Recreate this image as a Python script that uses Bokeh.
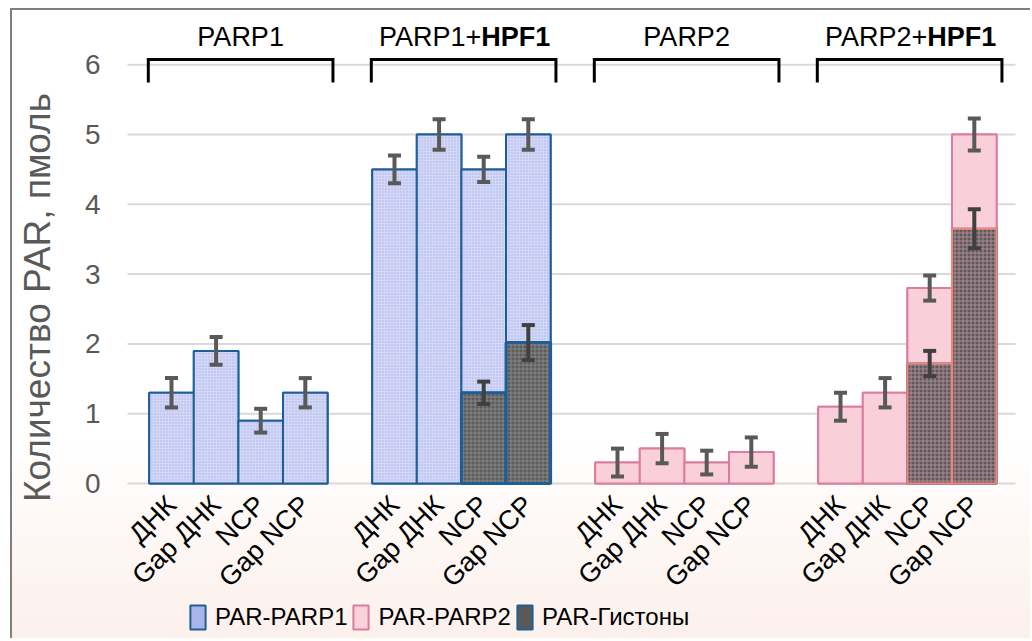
import math
from bokeh.plotting import figure
from bokeh.models import (ColumnDataSource, Whisker, TeeHead, Legend, LegendItem, Range1d)
from bokeh.core.properties import value
from bokeh.embed import file_html
from bokeh.resources import INLINE

# ---------------- data ----------------
groups = ["PARP1", "PARP1+HPF1", "PARP2", "PARP2+HPF1"]
categories = ["ДНК", "Gap ДНК", "NCP", "Gap NCP"]

parp1_values = [1.3, 1.9, 0.9, 1.3, 4.5, 5.0, 4.5, 5.0]
parp1_errors = [0.21, 0.2, 0.17, 0.21, 0.2, 0.22, 0.18, 0.22]

parp2_values = [0.3, 0.5, 0.3, 0.45, 1.1, 1.3, 2.8, 5.0]
parp2_errors = [0.2, 0.21, 0.17, 0.21, 0.2, 0.21, 0.18, 0.23]

hist_groups = ["PARP1+HPF1", "PARP1+HPF1", "PARP2+HPF1", "PARP2+HPF1"]
hist_categories = ["NCP", "Gap NCP", "NCP", "Gap NCP"]
hist_values = [1.3, 2.02, 1.72, 3.65]
hist_errors = [0.16, 0.25, 0.18, 0.28]

y_ticks = [0, 1, 2, 3, 4, 5, 6]
y_title = "Количество PAR, пмоль"
legend_labels = ["PAR-PARP1", "PAR-PARP2", "PAR-Гистоны"]

# ---------------- layout (pixel geometry of the page) ----------------
STEP = len(categories) + 1
FONT = "Liberation Sans"
W, H = 1020, 630          # canvas size
CX0, CY0 = 12, 10         # canvas top-left on the page
BAR0_PX, XPX = 171, 44.6  # page x of the first bar centre, px per unit
ZERO_PY, YPX = 483, 69.8  # page y of value 0, px per unit


def px2x(px):
    return (px - BAR0_PX) / XPX


def py2y(py):
    return (ZERO_PY - py) / YPX


def xpos(g, c):
    return groups.index(g) * STEP + categories.index(c)


p = figure(width=W, height=H,
           x_range=Range1d(px2x(CX0), px2x(CX0 + W)),
           y_range=Range1d(py2y(CY0 + H), py2y(CY0)),
           output_backend="svg", toolbar_location=None,
           x_axis_location=None, y_axis_location=None,
           min_border=0, min_border_left=0, min_border_right=0,
           min_border_top=0, min_border_bottom=0)
p.styles = {"border-top": "2px solid #7F7F7F", "border-left": "2px solid #7F7F7F",
            "margin-left": "10px", "margin-top": "8px",
            "background": "linear-gradient(180deg, #FFFFFF 0%, #FFFFFF 68%, #FCF0EB 100%)"}
p.border_fill_color = None
p.background_fill_color = None
p.outline_line_color = None
p.xgrid.visible = False
p.ygrid.visible = False

# ---------------- grid lines ----------------
gx0, gx1 = px2x(127), px2x(1015)
p.segment(x0=[gx0] * len(y_ticks), x1=[gx1] * len(y_ticks), y0=y_ticks, y1=y_ticks,
          line_color="#D9D9D9", line_width=2)

# ---------------- bars ----------------
p1_x = [xpos(g, c) for g in groups[:2] for c in categories]
p2_x = [xpos(g, c) for g in groups[2:] for c in categories]
h_x = [xpos(g, c) for g, c in zip(hist_groups, hist_categories)]

src1 = ColumnDataSource(dict(x=p1_x, top=parp1_values,
                             upper=[v + e for v, e in zip(parp1_values, parp1_errors)],
                             lower=[v - e for v, e in zip(parp1_values, parp1_errors)]))
src2 = ColumnDataSource(dict(x=p2_x, top=parp2_values,
                             upper=[v + e for v, e in zip(parp2_values, parp2_errors)],
                             lower=[v - e for v, e in zip(parp2_values, parp2_errors)]))
h_line = ["#1D5E98" if g.startswith("PARP1") else "#F2857A" for g in hist_groups]
h_hatch = ["#8E8E8E" if g.startswith("PARP1") else "#C2909C" for g in hist_groups]
h_lw = [3 if g.startswith("PARP1") else 2 for g in hist_groups]
srch = ColumnDataSource(dict(x=h_x, top=hist_values, lc=h_line, hc=h_hatch, lw=h_lw,
                             upper=[v + e for v, e in zip(hist_values, hist_errors)],
                             lower=[v - e for v, e in zip(hist_values, hist_errors)]))

# solid-coloured bars (used for the legend keys), fully covered by the textured bars
lr1 = p.vbar(x="x", top="top", width=1.0, source=src1, fill_color="#AAB4EC",
             line_color="#1F5F95", line_width=2)
lr2 = p.vbar(x="x", top="top", width=1.0, source=src2, fill_color="#FAD2DB",
             line_color="#DD7C9E", line_width=2)

p.vbar(x="x", top="top", width=1.0, source=src1, fill_color="#D2D7F7",
       line_color="#1D5E98", line_width=2,
       hatch_pattern="dot", hatch_color="#9AA4E2", hatch_scale=3, hatch_weight=1, hatch_alpha=0.7)
p.vbar(x="x", top="top", width=1.0, source=src2, fill_color="#F9D0DA",
       line_color="#DE7BA0", line_width=2)

lr3 = p.vbar(x="x", top="top", width=1.0, source=srch, fill_color="#595959",
             line_color="#1F5F95", line_width=2)
p.vbar(x="x", top="top", width=1.0, source=srch, fill_color="#5C5C5C",
       line_color="lc", line_width="lw",
       hatch_pattern="cross", hatch_color="hc", hatch_scale=4, hatch_weight=1, hatch_alpha=0.8)

for src, col in ((src1, "#595959"), (src2, "#595959"), (srch, "#404040")):
    p.add_layout(Whisker(source=src, base="x", upper="upper", lower="lower", level="annotation",
                         line_color=col, line_width=4,
                         upper_head=TeeHead(size=13, line_color=col, line_width=4),
                         lower_head=TeeHead(size=13, line_color=col, line_width=4)))

# ---------------- brackets and group titles ----------------
br_x, br_y = [], []
for g in groups:
    base = groups.index(g) * STEP
    left, right = base - 0.52, base + 3.62
    br_x.append([left, left, right, right])
    br_y.append([py2y(82), py2y(59), py2y(59), py2y(82)])
p.multi_line(xs=br_x, ys=br_y, line_color="black", line_width=3, line_join="miter")

CW = {"P": .667, "A": .667, "R": .722, "1": .556, "2": .556, "+": .584}
CWB = {"H": .722, "P": .667, "F": .611, "1": .556}
FS = 27
ty = py2y(36)
for g in groups:
    cx = groups.index(g) * STEP + 1.55
    if "+" in g:
        a, b = g.split("+")
        a = a + "+"
        wa = sum(CW[ch] for ch in a) * FS
        wb = sum(CWB[ch] for ch in b) * FS
        split = cx + (-(wa + wb) / 2 + wa) / XPX
        p.text(x=[split], y=[ty], text=[a], text_font=value(FONT), text_font_size=f"{FS}px",
               text_align="right", text_baseline="middle", text_color="black")
        p.text(x=[split], y=[ty], text=[b], text_font=value(FONT), text_font_size=f"{FS}px",
               text_font_style="bold", text_align="left", text_baseline="middle", text_color="black")
    else:
        p.text(x=[cx], y=[ty], text=[g], text_font=value(FONT), text_font_size=f"{FS}px",
               text_align="center", text_baseline="middle", text_color="black")

# ---------------- tick labels and axis title ----------------
p.text(x=[px2x(100)] * len(y_ticks), y=y_ticks, text=[str(t) for t in y_ticks],
       text_font=value(FONT), text_font_size="28px", text_color="#595959",
       text_align="right", text_baseline="middle")

all_x = p1_x + p2_x
all_lab = [c for g in groups for c in categories]
p.text(x=all_x, y=[py2y(500)] * len(all_x), text=all_lab, angle=math.pi / 4,
       text_font=value(FONT), text_font_size="27px", text_color="black",
       text_align="right", text_baseline="middle")

p.text(x=[px2x(37)], y=[py2y(297)], text=[y_title], angle=math.pi / 2,
       text_font=value(FONT), text_font_size="37px", text_color="#595959",
       text_align="center", text_baseline="middle")

# ---------------- legend ----------------
legend = Legend(items=[LegendItem(label=legend_labels[0], renderers=[lr1]),
                       LegendItem(label=legend_labels[1], renderers=[lr2]),
                       LegendItem(label=legend_labels[2], renderers=[lr3])],
                orientation="horizontal", location=(188 - CX0, CY0 + H - 632),
                glyph_width=19, glyph_height=30, label_standoff=8, spacing=4,
                padding=0, margin=0, border_line_color=None, background_fill_alpha=0,
                label_text_font=FONT, label_text_font_size="24px",
                label_text_color="black")
p.add_layout(legend)

open("out.html", "w").write(file_html(p, INLINE))
